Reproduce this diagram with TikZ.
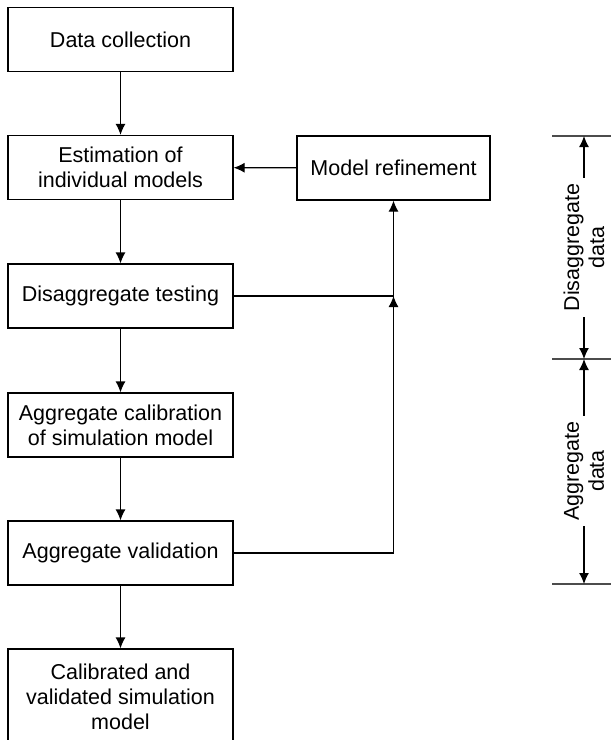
\documentclass[tikz,border=0pt]{standalone}
\usepackage{fontspec}
\setmainfont{Liberation Sans}
\usetikzlibrary{arrows.meta}

\begin{document}
\begin{tikzpicture}[x=0.5bp,y=-0.5bp,line width=0.6bp,
    >={Latex[length=5.5bp,width=5bp]},
    box/.style={draw,minimum width=112.5bp,minimum height=32bp,align=center,
      inner sep=2bp,font=\fontsize{10.75bp}{12.5bp}\selectfont},
    dimtext/.style={rotate=90,align=center,inner sep=2.5bp,
      font=\fontsize{10.75bp}{12.5bp}\selectfont},
    tick/.style={draw=black!70,line width=0.8bp}]
  \useasboundingbox (0,0) rectangle (611,740);
  \node (dc) [box] at (120.5,39.5) {Data collection};
  \node (eim) [box] at (120.5,167.5) {Estimation of\\individual models};
  \node (mr) [box,minimum width=96.5bp] at (393.5,168) {Model refinement};
  \node (dt) [box] at (120.5,296) {Disaggregate testing};
  \node (ac) [box] at (120.5,425) {Aggregate calibration\\of simulation model};
  \node (av) [box] at (120.5,553) {Aggregate validation};
  \node (cvm) [box,minimum height=48bp] at (120.5,697)
    {Calibrated and\\validated simulation\\model};

  \draw[->] (dc) -- (eim);
  \draw[->] (eim) -- (dt);
  \draw[->] (dt) -- (ac);
  \draw[->] (ac) -- (av);
  \draw[->] (av) -- (cvm);
  \draw[->] (mr) -- (eim);
  \path (mr.south |- dt.east) coordinate (jn);
  \draw[->] (av.east) -| (jn);
  \draw[->] (dt.east) -- (jn) -- (mr.south);

  \path (584,136) coordinate (dtop)
    (584,359) coordinate (dmid)
    (584,584) coordinate (dbot);
  \draw[tick] (552,136) -- (612,136);
  \draw[tick] (552,359) -- (612,359);
  \draw[tick] (552,584) -- (612,584);
  \node (dd) [dimtext] at (584,247.5) {Disaggregate\\data};
  \node (ad) [dimtext] at (584,471) {Aggregate\\data};
  \draw[->] (dd.east) -- (dtop);
  \draw[->] (dd.west) -- (dmid);
  \draw[->] (ad.east) -- (dmid);
  \draw[->] (ad.west) -- (dbot);
\end{tikzpicture}
\end{document}
